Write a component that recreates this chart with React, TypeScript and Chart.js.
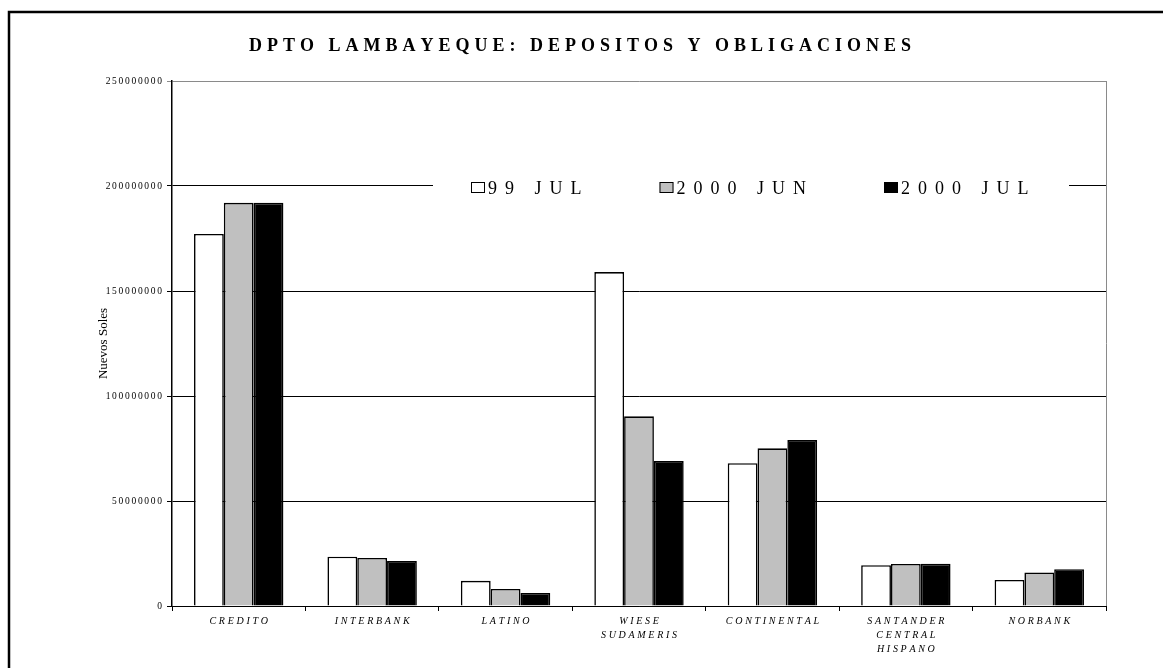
import React, { useEffect, useRef } from 'react';
import { Chart, registerables } from 'chart.js';

Chart.register(...registerables);

const titleText = 'DPTO LAMBAYEQUE: DEPOSITOS Y OBLIGACIONES';
const yAxisTitle = 'Nuevos Soles';
const categoryLines: string[][] = [
  ['CREDITO'],
  ['INTERBANK'],
  ['LATINO'],
  ['WIESE', 'SUDAMERIS'],
  ['CONTINENTAL'],
  ['SANTANDER', 'CENTRAL', 'HISPANO'],
  ['NORBANK'],
];
const seriesNames = ['99 JUL', '2000 JUN', '2000 JUL'];
const seriesColors = ['#ffffff', '#c0c0c0', '#000000'];
const jul1999 = [177200000, 23500000, 12000000, 159000000, 68000000, 19400000, 12400000];
const jun2000 = [192000000, 22900000, 8100000, 90300000, 75100000, 20000000, 16000000];
const jul2000 = [192000000, 21400000, 6200000, 69000000, 79000000, 20100000, 17500000];
const yTicks = [0, 50000000, 100000000, 150000000, 200000000, 250000000];

const SERIF = '"Liberation Serif", "Times New Roman", serif';

function drawSpaced(ctx: CanvasRenderingContext2D, text: string, x: number, y: number, spacing: number, align: 'left' | 'center' | 'right') {
  const chars = Array.from(text);
  const widths = chars.map((c) => ctx.measureText(c).width);
  const total = widths.reduce((a, b) => a + b, 0) + spacing * (chars.length - 1);
  let cx = align === 'left' ? x : align === 'center' ? x - total / 2 : x - total;
  ctx.textAlign = 'left';
  chars.forEach((c, i) => {
    ctx.fillText(c, cx, y);
    cx += widths[i] + spacing;
  });
  return total;
}

const decoPlugin = {
  id: 'deco',
  afterDraw(chart: any) {
    const ctx: CanvasRenderingContext2D = chart.ctx;
    const { top, bottom, right } = chart.chartArea;
    const xs = chart.scales.x;
    const ys = chart.scales.y;
    ctx.save();

    // outer frame
    ctx.strokeStyle = '#000';
    ctx.lineWidth = 2.5;
    ctx.beginPath();
    ctx.moveTo(9, 700);
    ctx.lineTo(9, 12);
    ctx.lineTo(1200, 12);
    ctx.stroke();

    // plot right border
    ctx.strokeStyle = '#8a8a8a';
    ctx.lineWidth = 1;
    ctx.beginPath();
    ctx.moveTo(Math.round(right) + 0.5, top);
    ctx.lineTo(Math.round(right) + 0.5, bottom);
    ctx.stroke();

    ctx.fillStyle = '#000';

    // title
    ctx.font = `bold 18px ${SERIF}`;
    ctx.textBaseline = 'alphabetic';
    drawSpaced(ctx, titleText, 580, 51, 5, 'center');

    // y tick labels
    ctx.font = `9.5px ${SERIF}`;
    ctx.textBaseline = 'middle';
    yTicks.forEach((v) => {
      drawSpaced(ctx, String(v), 162, ys.getPixelForValue(v), 1.7, 'right');
    });

    // x category labels
    ctx.font = `italic 10px ${SERIF}`;
    ctx.textBaseline = 'middle';
    categoryLines.forEach((lines, i) => {
      const x = xs.getPixelForValue(i);
      lines.forEach((line, k) => {
        drawSpaced(ctx, line, x, bottom + 15 + k * 14, 2.7, 'center');
      });
    });

    // y axis title
    ctx.save();
    ctx.font = `13px ${SERIF}`;
    ctx.translate(104, (top + bottom) / 2);
    ctx.rotate(-Math.PI / 2);
    ctx.textAlign = 'center';
    ctx.textBaseline = 'middle';
    ctx.fillText(yAxisTitle, 0, 0);
    ctx.restore();

    // legend
    ctx.fillStyle = '#fff';
    ctx.fillRect(433, 177, 1069 - 433, 21);
    ctx.font = `18px ${SERIF}`;
    ctx.textBaseline = 'alphabetic';
    let lx = 471;
    seriesNames.forEach((name, i) => {
      ctx.fillStyle = seriesColors[i];
      ctx.fillRect(lx, 182, 14, 11);
      ctx.strokeStyle = '#000';
      ctx.lineWidth = 1;
      ctx.strokeRect(lx + 0.5, 182.5, 13, 10);
      ctx.fillStyle = '#000';
      const w = drawSpaced(ctx, name, lx + 17, 194, 8, 'left');
      lx = lx + 17 + w + 78;
    });

    ctx.restore();
  },
};

export default function App() {
  const canvasRef = useRef<HTMLCanvasElement | null>(null);

  useEffect(() => {
    document.body.style.overflow = 'hidden';
    const canvas = canvasRef.current;
    if (!canvas) return;
    const datasets = [jul1999, jun2000, jul2000].map((data, i) => ({
      label: seriesNames[i],
      data,
      backgroundColor: seriesColors[i],
      borderColor: '#000',
      borderWidth: 1.6,
      categoryPercentage: 0.67,
      barPercentage: 1,
    }));
    const chart = new Chart(canvas, {
      type: 'bar',
      data: {
        labels: categoryLines.map((l) => l.join(' ')),
        datasets,
      },
      options: {
        responsive: false,
        devicePixelRatio: 1,
        animation: false,
        layout: { padding: { left: 0, top: 81, right: 57, bottom: 0 } },
        plugins: {
          legend: { display: false },
          title: { display: false },
          tooltip: { enabled: false },
        },
        scales: {
          x: {
            type: 'category',
            offset: true,
            grid: {
              offset: true,
              drawOnChartArea: false,
              drawTicks: true,
              tickLength: 5,
              color: '#000',
            },
            border: { display: true, color: '#000', width: 1 },
            ticks: { display: false },
            afterFit: (s: any) => {
              s.height = 62;
            },
          },
          y: {
            min: 0,
            max: 250000000,
            ticks: { display: false, stepSize: 50000000 },
            grid: {
              drawTicks: true,
              tickLength: 5,
              color: (c: any) => (c.tick && c.tick.value === 250000000 ? '#8a8a8a' : '#000'),
            },
            border: { display: true, color: '#000', width: 1.5 },
            afterFit: (s: any) => {
              s.width = 172;
            },
          },
        },
      },
      plugins: [decoPlugin],
    });
    return () => chart.destroy();
  }, []);

  return (
    <div style={{ position: 'absolute', left: 0, top: 0, width: 1163, height: 668, background: '#fff' }}>
      <canvas ref={canvasRef} width={1163} height={668} style={{ display: 'block' }} />
    </div>
  );
}
